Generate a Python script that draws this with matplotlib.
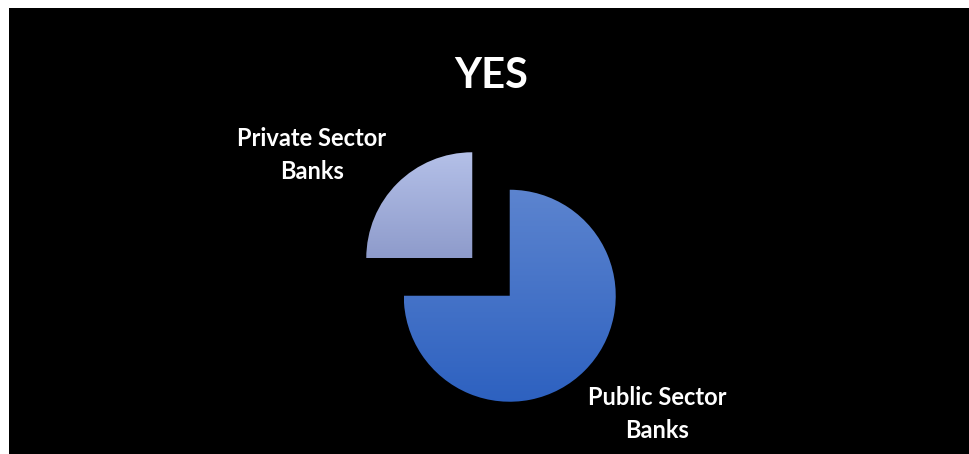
import matplotlib.pyplot as plt
import numpy as np
from matplotlib.colors import LinearSegmentedColormap

plt.rcParams['font.family'] = ['Lato', 'DejaVu Sans']

# shares of respondents answering YES
labels = ['Public Sector\nBanks', 'Private Sector\nBanks']
shares = [75, 25]
explode = [0.25, 0.25]
# gradient colours per slice (top, bottom)
slice_colors = [('#5c84cf', '#2d61c0'), ('#b4c0e8', '#8e9bcb')]

W, H = 969, 454
fig = plt.figure(figsize=(W / 100, H / 100), dpi=100, facecolor='white')

# black panel
bg = fig.add_axes([9 / W, 0, (W - 9) / W, (H - 8) / H])
bg.set_facecolor('black')
bg.set_xticks([])
bg.set_yticks([])
for s in bg.spines.values():
    s.set_visible(False)

# pie axes: one unit of radius = 106 px
r_px = 106
cx, cy = 491, 277
side = 3 * r_px
ax = fig.add_axes([(cx - side / 2) / W, (H - cy - side / 2) / H, side / W, side / H])

wedges, _ = ax.pie(shares, explode=explode, startangle=90, counterclock=False,
                   radius=1, center=(0, 0), frame=True,
                   wedgeprops=dict(facecolor='none', edgecolor='none'))

grad = np.linspace(0, 1, 256).reshape(-1, 1)
for w, (top, bot) in zip(wedges, slice_colors):
    path = w.get_path().transformed(w.get_patch_transform())
    x0, y0 = path.vertices.min(axis=0)
    x1, y1 = path.vertices.max(axis=0)
    cmap = LinearSegmentedColormap.from_list('g', [top, bot])
    im = ax.imshow(grad, cmap=cmap, extent=(x0, x1, y0, y1), origin='upper',
                   aspect='auto', interpolation='bilinear', zorder=2)
    im.set_clip_path(w)
ax.set_xlim(-1.5, 1.5)
ax.set_ylim(-1.5, 1.5)
ax.axis('off')

# title
fig.text(cx / W, (H - 88) / H, 'YES', color='white', fontsize=30,
         fontweight='bold', ha='center', va='baseline')

# slice labels, one text per line: (x centre, first baseline) in px
label_pos = [(657, 405), (312, 146)]
for lab, (lx, ly) in zip(labels, label_pos):
    for i, line in enumerate(lab.split('\n')):
        fig.text(lx / W, (H - ly - 33 * i) / H, line, color='white',
                 fontsize=17, fontweight='bold', ha='center', va='baseline')

fig.savefig('out.png', dpi=100, facecolor='white')
